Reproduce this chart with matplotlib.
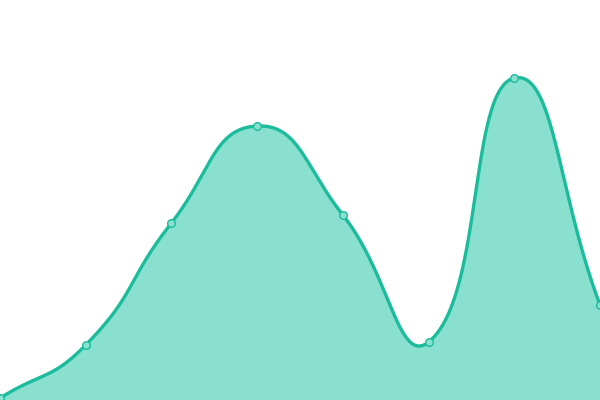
import numpy as np
import matplotlib
matplotlib.use("Agg")
import matplotlib.pyplot as plt

# values (axis 0..400, 8 evenly spaced points)
categories = list(range(8))
values = [2, 55, 177, 274, 185, 58, 322, 95]

LINE = "#1abc9c"
FILL = "#8ae0ce"
SMOOTH = 0.5


def smooth_curve(xs, ys, sx, sy, smooth=SMOOTH, n=60):
    # echarts-like bezier smoothing, computed in pixel space
    px = np.asarray(xs, float) * sx
    py = np.asarray(ys, float) * sy
    k = len(px)
    cp_in, cp_out = [], []
    for i in range(k):
        prev = (px[max(i - 1, 0)], py[max(i - 1, 0)])
        nxt = (px[min(i + 1, k - 1)], py[min(i + 1, k - 1)])
        cur = (px[i], py[i])
        vx = (nxt[0] - prev[0]) * smooth
        vy = (nxt[1] - prev[1]) * smooth
        d0 = np.hypot(cur[0] - prev[0], cur[1] - prev[1])
        d1 = np.hypot(cur[0] - nxt[0], cur[1] - nxt[1])
        r = d1 / (d0 + d1) if d0 + d1 > 0 else 0.5
        cp_out.append((cur[0] + vx * r, cur[1] + vy * r))
        cp_in.append((cur[0] - vx * (1 - r), cur[1] - vy * (1 - r)))
    t = np.linspace(0, 1, n)[:, None]
    out = []
    for i in range(k - 1):
        p0 = np.array([px[i], py[i]])
        p1 = np.array(cp_out[i])
        p2 = np.array(cp_in[i + 1])
        p3 = np.array([px[i + 1], py[i + 1]])
        seg = ((1 - t) ** 3) * p0 + 3 * ((1 - t) ** 2) * t * p1 + 3 * (1 - t) * t ** 2 * p2 + t ** 3 * p3
        out.append(seg if i == 0 else seg[1:])
    pts = np.vstack(out)
    return pts[:, 0] / sx, pts[:, 1] / sy


fig = plt.figure(figsize=(6, 4), dpi=100)
ax = fig.add_axes([0, 0, 1, 1])
ax.set_xlim(0, 7)
ax.set_ylim(0, 400)
ax.axis("off")

cx, cy = smooth_curve(categories, values, 600 / 7, 1.0)
ax.fill_between(cx, cy, 0, color=FILL, lw=0)
ax.plot(cx, cy, color=LINE, lw=2.4, solid_capstyle="round")
ax.plot(categories, values, "o", ms=5.5, mfc=FILL, mec=LINE, mew=1.0)

fig.savefig("out.png", dpi=100)
